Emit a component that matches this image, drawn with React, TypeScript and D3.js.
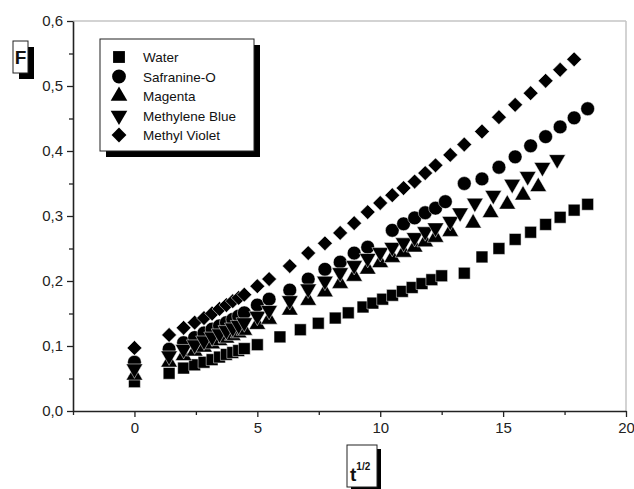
import { useEffect, useRef } from 'react';
import * as d3 from 'd3';

// t^(1/2) and F values
const waterT = [0, 1.41, 2, 2.45, 2.83, 3.16, 3.46, 3.74, 4, 4.24, 4.47, 5, 5.92, 6.75, 7.48, 8.17, 8.7, 9.3, 9.7, 10.1, 10.5, 10.9, 11.3, 11.7, 12.1, 12.5, 13.42, 14.14, 14.83, 15.49, 16.12, 16.73, 17.32, 17.89, 18.44];
const waterF = [0.045, 0.058, 0.066, 0.071, 0.075, 0.079, 0.083, 0.087, 0.09, 0.093, 0.096, 0.102, 0.114, 0.125, 0.135, 0.143, 0.151, 0.16, 0.166, 0.172, 0.178, 0.184, 0.19, 0.196, 0.202, 0.208, 0.212, 0.237, 0.25, 0.264, 0.275, 0.287, 0.298, 0.309, 0.318];

const safranineT = [0, 1.41, 2, 2.45, 2.83, 3.16, 3.46, 3.74, 4, 4.24, 4.47, 5, 5.48, 6.32, 7.07, 7.75, 8.37, 8.94, 9.49, 10.49, 10.95, 11.4, 11.83, 12.25, 12.65, 13.42, 14.14, 14.83, 15.49, 16.12, 16.73, 17.32, 17.89, 18.44];
const safranineF = [0.075, 0.095, 0.105, 0.113, 0.12, 0.126, 0.131, 0.136, 0.141, 0.146, 0.151, 0.163, 0.172, 0.186, 0.203, 0.218, 0.229, 0.243, 0.252, 0.278, 0.288, 0.297, 0.305, 0.312, 0.322, 0.35, 0.357, 0.375, 0.391, 0.408, 0.422, 0.437, 0.451, 0.465];

const magentaT = [0, 1.41, 2, 2.45, 2.83, 3.16, 3.46, 3.74, 4, 4.24, 4.47, 5, 5.48, 6.32, 7.07, 7.75, 8.37, 8.94, 9.49, 10, 10.49, 10.95, 11.4, 11.83, 12.25, 12.85, 13.78, 14.49, 15.17, 15.81, 16.43];
const magentaF = [0.055, 0.075, 0.085, 0.092, 0.098, 0.103, 0.108, 0.112, 0.116, 0.12, 0.124, 0.133, 0.141, 0.155, 0.17, 0.183, 0.196, 0.207, 0.218, 0.228, 0.236, 0.244, 0.252, 0.26, 0.267, 0.276, 0.289, 0.305, 0.318, 0.332, 0.345];

const methyleneT = [0, 1.41, 2, 2.45, 2.83, 3.16, 3.46, 3.74, 4, 4.24, 4.47, 5, 5.48, 6.32, 7.07, 7.75, 8.37, 8.94, 9.49, 10, 10.49, 10.95, 11.4, 11.83, 12.25, 12.85, 13.25, 13.85, 14.6, 15.37, 16, 16.6, 17.2];
const methyleneF = [0.065, 0.085, 0.095, 0.102, 0.108, 0.114, 0.119, 0.124, 0.128, 0.132, 0.136, 0.146, 0.155, 0.17, 0.188, 0.2, 0.213, 0.224, 0.235, 0.244, 0.252, 0.259, 0.267, 0.276, 0.282, 0.292, 0.305, 0.32, 0.332, 0.349, 0.361, 0.375, 0.387];

const violetT = [0, 1.41, 2, 2.45, 2.83, 3.16, 3.46, 3.74, 4, 4.24, 4.47, 5, 5.48, 6.32, 7.07, 7.75, 8.37, 8.94, 9.49, 10, 10.49, 10.95, 11.4, 11.83, 12.25, 12.85, 13.42, 14.14, 14.83, 15.49, 16.12, 16.73, 17.32, 17.89];
const violetF = [0.097, 0.117, 0.128, 0.136, 0.143, 0.15, 0.157, 0.163, 0.169, 0.174, 0.179, 0.192, 0.203, 0.223, 0.243, 0.258, 0.274, 0.289, 0.306, 0.32, 0.332, 0.343, 0.353, 0.366, 0.378, 0.394, 0.41, 0.43, 0.452, 0.471, 0.489, 0.508, 0.525, 0.541];

const seriesNames = ['Water', 'Safranine-O', 'Magenta', 'Methylene Blue', 'Methyl Violet'];
const xMajor = [0, 5, 10, 15, 20];
const xMinor = [-2.5, 2.5, 7.5, 12.5, 17.5];
const yMajor = [0, 0.1, 0.2, 0.3, 0.4, 0.5, 0.6];
const yMinor = [0.05, 0.15, 0.25, 0.35, 0.45, 0.55];

const W = 634;
const H = 489;

const App = () => {
  const svgRef = useRef<SVGSVGElement>(null);

  useEffect(() => {
    const svg = d3.select(svgRef.current);
    svg.selectAll('*').remove();

    const x = d3.scaleLinear().domain([-2.5, 20]).range([73, 626]);
    const y = d3.scaleLinear().domain([0, 0.6]).range([411, 21]);
    const font = 'Arial, "Liberation Sans", sans-serif';
    const comma = (d: number) => d3.format('.1f')(d).replace('.', ',');

    // top / right frame (light)
    svg.append('line').attr('x1', x(-2.5)).attr('x2', x(20)).attr('y1', y(0.6)).attr('y2', y(0.6))
      .attr('stroke', '#c4c4c4').attr('stroke-width', 1.5);
    svg.append('line').attr('x1', x(20)).attr('x2', x(20)).attr('y1', y(0.6)).attr('y2', y(0))
      .attr('stroke', '#c4c4c4').attr('stroke-width', 1.5);

    // minor ticks first
    svg.append('g')
      .attr('transform', `translate(0,${y(0)})`)
      .call(d3.axisBottom(x).tickValues(xMinor).tickSize(4).tickSizeOuter(0).tickFormat(() => ''))
      .call(g => g.select('.domain').remove())
      .selectAll('line').attr('stroke', '#222').attr('stroke-width', 1.3);
    svg.append('g')
      .attr('transform', `translate(${x(-2.5)},0)`)
      .call(d3.axisLeft(y).tickValues(yMinor).tickSize(4).tickSizeOuter(0).tickFormat(() => ''))
      .call(g => g.select('.domain').remove())
      .selectAll('line').attr('stroke', '#222').attr('stroke-width', 1.3);

    const xAxis = svg.append('g')
      .attr('transform', `translate(0,${y(0)})`)
      .call(d3.axisBottom(x).tickValues(xMajor).tickSize(6).tickSizeOuter(0).tickPadding(5).tickFormat(d => `${d}`));
    xAxis.select('.domain').attr('stroke', '#222').attr('stroke-width', 1.6);
    xAxis.selectAll('line').attr('stroke', '#222').attr('stroke-width', 1.3);
    xAxis.selectAll('text').attr('font-family', font).attr('font-size', 15).attr('fill', '#222');

    const yAxis = svg.append('g')
      .attr('transform', `translate(${x(-2.5)},0)`)
      .call(d3.axisLeft(y).tickValues(yMajor).tickSize(6).tickSizeOuter(0).tickPadding(4).tickFormat(d => comma(+d)));
    yAxis.select('.domain').attr('stroke', '#222').attr('stroke-width', 1.6);
    yAxis.selectAll('line').attr('stroke', '#222').attr('stroke-width', 1.3);
    yAxis.selectAll('text').attr('font-family', font).attr('font-size', 15).attr('fill', '#222');

    // symbols
    const sq = d3.symbol().type(d3.symbolSquare).size(140)();
    const circ = d3.symbol().type(d3.symbolCircle).size(150)();
    const tri = d3.symbol().type(d3.symbolTriangle).size(120)();
    const dia = d3.symbol().type(d3.symbolSquare).size(110)();
    const shapes = [
      { name: seriesNames[0], t: waterT, f: waterF, path: sq, rot: 0 },
      { name: seriesNames[1], t: safranineT, f: safranineF, path: circ, rot: 0 },
      { name: seriesNames[2], t: magentaT, f: magentaF, path: tri, rot: 0 },
      { name: seriesNames[3], t: methyleneT, f: methyleneF, path: tri, rot: 180 },
      { name: seriesNames[4], t: violetT, f: violetF, path: dia, rot: 45 },
    ];

    shapes.forEach(s => {
      svg.append('g')
        .selectAll('path')
        .data(s.t.map((t, i) => ({ t, f: s.f[i] })))
        .join('path')
        .attr('d', s.path)
        .attr('transform', d => `translate(${x(d.t)},${y(d.f)}) rotate(${s.rot})`)
        .attr('fill', '#000')
        .attr('stroke', '#fff')
        .attr('stroke-width', 0.5);
    });

    // legend
    const lg = svg.append('g');
    lg.append('rect').attr('x', 106).attr('y', 45).attr('width', 154).attr('height', 112).attr('fill', '#000');
    lg.append('rect').attr('x', 100).attr('y', 39).attr('width', 154).attr('height', 112)
      .attr('fill', '#fff').attr('stroke', '#222').attr('stroke-width', 1);
    shapes.forEach((s, i) => {
      const cy = 57 + i * 19.5;
      lg.append('path').attr('d', s.path).attr('fill', '#000')
        .attr('transform', `translate(119,${cy}) rotate(${s.rot})`);
      lg.append('text').attr('x', 143).attr('y', cy + 5)
        .attr('font-family', font).attr('font-size', 13.5).attr('fill', '#111')
        .text(s.name);
    });

    // F label
    const fl = svg.append('g');
    fl.append('rect').attr('x', 19).attr('y', 47).attr('width', 15).attr('height', 32).attr('fill', '#000');
    fl.append('rect').attr('x', 13).attr('y', 41).attr('width', 15).attr('height', 32)
      .attr('fill', '#fff').attr('stroke', '#222').attr('stroke-width', 1);
    fl.append('text').attr('x', 20.5).attr('y', 64).attr('text-anchor', 'middle')
      .attr('font-family', font).attr('font-weight', 'bold').attr('font-size', 19).attr('fill', '#111')
      .text('F');

    // t^1/2 label
    const tl = svg.append('g');
    tl.append('rect').attr('x', 351).attr('y', 449).attr('width', 30).attr('height', 42).attr('fill', '#000');
    tl.append('rect').attr('x', 347).attr('y', 445).attr('width', 30).attr('height', 42)
      .attr('fill', '#fff').attr('stroke', '#222').attr('stroke-width', 1);
    const tt = tl.append('text').attr('x', 350).attr('y', 481)
      .attr('font-family', font).attr('font-weight', 'bold').attr('font-size', 19).attr('fill', '#111');
    tt.append('tspan').text('t');
    tt.append('tspan').attr('dy', -11).attr('font-size', 10).text('1/2');
  }, []);

  return (
    <div style={{ position: 'absolute', left: 0, top: 0 }}>
      <svg ref={svgRef} width={W} height={H} style={{ display: 'block', background: '#fff' }} />
    </div>
  );
};

export default App;
